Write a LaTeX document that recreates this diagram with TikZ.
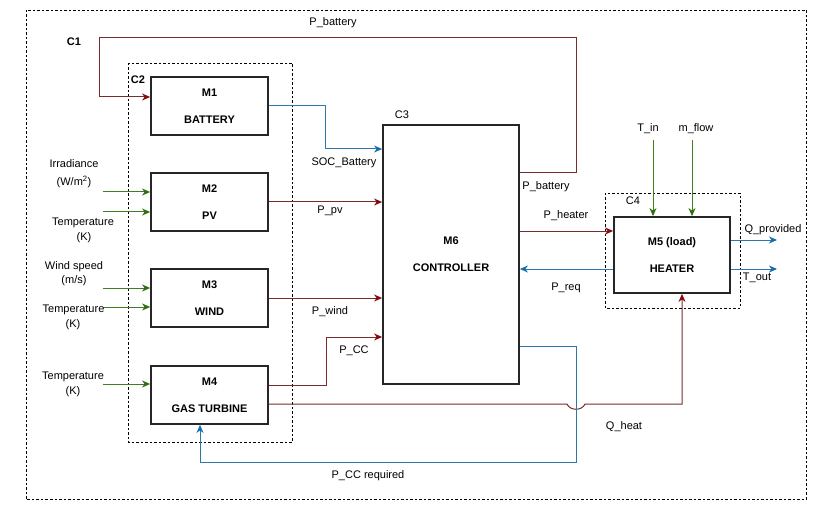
\documentclass[tikz,border=0pt]{standalone}
\usepackage{fontspec}
\setmainfont{Liberation Sans}
\usetikzlibrary{arrows.meta}
\definecolor{lred}{RGB}{120,45,45}
\definecolor{ared}{RGB}{135,10,10}
\definecolor{lblue}{RGB}{45,120,165}
\definecolor{ablue}{RGB}{20,110,175}
\definecolor{lgreen}{RGB}{65,125,35}
\definecolor{agreen}{RGB}{45,110,15}
\begin{document}
\begin{tikzpicture}[x=1pt,y=-1pt,
  font=\fontsize{11}{13}\selectfont,
  mbox/.style={draw=black!85, line width=1.8pt, fill=white, minimum width=117pt, minimum height=58pt, font=\fontsize{11}{13}\selectfont\bfseries, align=center, inner sep=0pt},
  lbl/.style={inner sep=0pt, align=center},
  cont/.style={draw=black, dash pattern=on 2.5pt off 2pt, line width=0.75pt},
  redl/.style={draw=lred, line width=1pt, -{Stealth[length=8pt,width=7pt,inset=2.5pt,color=ared]}},
  bluel/.style={draw=lblue, line width=1pt, -{Stealth[length=8pt,width=7pt,inset=2.5pt,color=ablue]}},
  greenl/.style={draw=lgreen, line width=1pt, -{Stealth[length=8pt,width=7pt,inset=2.5pt,color=agreen]}}
]
\useasboundingbox (0,0) rectangle (835,505);
% containers
\draw[cont] (26,10) rectangle (806,499);
\draw[cont] (128,63) rectangle (292,442);
\draw[cont] (605,193) rectangle (740,308);
% boxes
\node[mbox] (m1) at (209.5,106) {M1\\[14pt]BATTERY};
\node[mbox] (m2) at (209.5,202) {M2\\[14pt]PV};
\node[mbox] (m3) at (209.5,298) {M3\\[14pt]WIND};
\node[mbox] (m4) at (209.5,395) {M4\\[14pt]GAS TURBINE};
\node[mbox, minimum width=136pt, minimum height=259pt] (m6) at (451,254.5) {M6\\[14pt]CONTROLLER};
\node[mbox, minimum width=116pt, minimum height=76pt] (m5) at (672,255) {M5 (load)\\[14pt]HEATER};
% container labels
\node[lbl, font=\fontsize{11}{13}\selectfont\bfseries] (c1) at (74,42) {C1};
\node[lbl, font=\fontsize{11}{13}\selectfont\bfseries] (c2) at (138,80) {C2};
\node[lbl] (c3) at (402,115) {C3};
\node[lbl] (c4) at (633,201) {C4};
% free ends
\coordinate (qp) at (777,240);
\coordinate (to) at (777,269);
\coordinate (ti) at (653,140);
\coordinate (mf) at (692,140);
\coordinate (g1) at (103,192);
\coordinate (g2) at (103,212);
\coordinate (g3) at (103,288);
\coordinate (g4) at (103,307);
\coordinate (g5) at (103,384);
% connectors
\draw[redl] (m6.east |- 0,173) -| (576,38) -| (99,97) -- (m1.west |- 0,97);
\draw[bluel] (m1.east) -| (325,149) -- (m6.west |- 0,149);
\draw[redl] (m2.east) -- (m6.west |- m2.east);
\draw[redl] (m3.east) -- (m6.west |- m3.east);
\draw[redl] (m4.east |- 0,385) -| (326,337) -- (m6.west |- 0,337);
\draw[redl] (m4.east |- 0,404) -- (567,404) .. controls (570,411) and (582,411) .. (585,404) -| (m5.south -| 682,0);
\draw[bluel] (m6.east |- 0,346) -| (576,462) -| (m4.south -| 200,0);
\draw[redl] (m6.east |- 0,231) -- (m5.west |- 0,231);
\draw[bluel] (m5.west |- 0,269) -- (m6.east |- 0,269);
\draw[bluel] (m5.east |- qp) -- (qp);
\draw[bluel] (m5.east |- to) -- (to);
\draw[greenl] (ti) -- (m5.north -| ti);
\draw[greenl] (mf) -- (m5.north -| mf);
\draw[greenl] (g1) -- (m2.west |- g1);
\draw[greenl] (g2) -- (m2.west |- g2);
\draw[greenl] (g3) -- (m3.west |- g3);
\draw[greenl] (g4) -- (m3.west |- g4);
\draw[greenl] (g5) -- (m4.west |- g5);
% connector labels
\node[lbl] (lpb1) at (333,23) {P\_battery};
\node[lbl] (lpb2) at (546,187) {P\_battery};
\node[lbl] (lsoc) at (344,163) {SOC\_Battery};
\node[lbl] (lpv) at (330,211) {P\_pv};
\node[lbl] (lpw) at (330,312) {P\_wind};
\node[lbl] (lpcc) at (354,351) {P\_CC};
\node[lbl] (lph) at (566,216) {P\_heater};
\node[lbl] (lpr) at (566,288) {P\_req};
\node[lbl] (lqp) at (773,230) {Q\_provided};
\node[lbl] (lto) at (757,278) {T\_out};
\node[lbl] (lti) at (648,129) {T\_in};
\node[lbl] (lmf) at (696,129) {m\_flow};
\node[lbl] (lqh) at (624,427) {Q\_heat};
\node[lbl] (lpccr) at (368,476) {P\_CC required};
% input labels
\node[lbl] (li1) at (74,164) {Irradiance};
\node[lbl] (li2) at (74,182) {(W/m\textsuperscript{2})};
\node[lbl] (lt1) at (83,223) {Temperature};
\node[lbl] (lt1b) at (84,238) {(K)};
\node[lbl] (lw1) at (74,267) {Wind speed};
\node[lbl] (lw2) at (74,281) {(m/s)};
\node[lbl] (lt2) at (73.5,310) {Temperature};
\node[lbl] (lt2b) at (73,325) {(K)};
\node[lbl] (lt3) at (73,377) {Temperature};
\node[lbl] (lt3b) at (73,392) {(K)};
\end{tikzpicture}
\end{document}
